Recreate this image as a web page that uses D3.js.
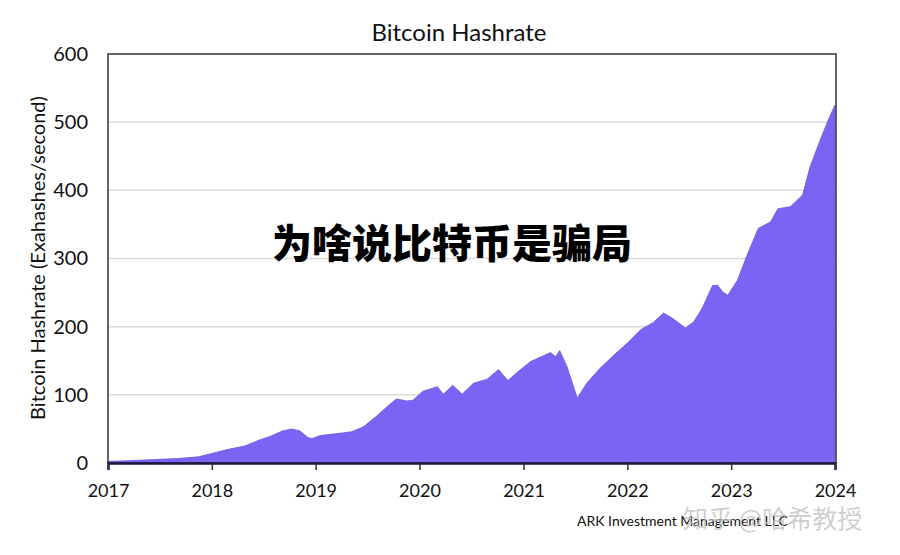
<!DOCTYPE html>
<html>
<head>
<meta charset="utf-8">
<script src="https://cdn.jsdelivr.net/npm/d3@7/dist/d3.min.js"></script>
<style>
  body { margin: 0; background: #fff; }
  text { font-family: Lato, "Noto Sans", sans-serif; }
</style>
</head>
<body>
<script>
// 数据：日期与算力 (EH/s)
const dates = [
  "2017-01-01", "2017-02-17", "2017-06-13", "2017-09-02", "2017-11-14",
  "2018-01-01", "2018-02-28", "2018-04-27", "2018-06-13", "2018-07-31",
  "2018-09-06", "2018-10-09", "2018-11-07", "2018-12-06", "2018-12-20",
  "2019-01-15", "2019-02-21", "2019-04-05", "2019-05-08", "2019-06-18",
  "2019-08-04", "2019-09-13", "2019-10-12", "2019-11-17", "2019-12-09",
  "2020-01-12", "2020-03-04", "2020-03-25", "2020-04-27", "2020-05-30",
  "2020-07-09", "2020-08-26", "2020-10-05", "2020-11-07", "2020-12-10",
  "2021-01-26", "2021-02-28", "2021-04-06", "2021-04-24", "2021-05-08",
  "2021-06-03", "2021-07-09", "2021-08-11", "2021-09-27", "2021-11-14",
  "2022-01-01", "2022-02-18", "2022-04-02", "2022-05-08", "2022-06-10",
  "2022-07-24", "2022-08-22", "2022-09-21", "2022-10-27", "2022-11-14",
  "2022-12-02", "2022-12-20", "2023-01-23", "2023-02-28", "2023-04-06",
  "2023-05-20", "2023-06-14", "2023-07-28", "2023-09-09", "2023-10-05",
  "2023-11-10", "2023-12-13", "2024-01-01"
];
const hashrate = [
  2.5, 3, 5, 6.5, 9,
  14, 20, 25, 33, 40,
  47, 50, 47, 37, 36,
  40, 42, 44, 46, 53,
  69, 84, 94, 91, 92,
  105, 112, 101, 114, 101,
  117, 123, 137, 121, 133,
  149, 155, 162, 156, 165,
  141, 95, 117, 139, 158,
  176, 196, 206, 220, 212,
  198, 207, 227, 260, 261,
  251, 246, 268, 307, 344,
  354, 373, 376, 393, 434,
  474, 508, 525
];
const yTicks = [0, 100, 200, 300, 400, 500, 600];
const xTickYears = [2017, 2018, 2019, 2020, 2021, 2022, 2023, 2024];

const w = 900;
const h = 555;
const margin = {top: 54, left: 108};
const pw = 728;
const ph = 409;

const parse = d3.timeParse("%Y-%m-%d");
const data = dates.map((d, i) => ({date: parse(d), value: hashrate[i]}));

const x = d3.scaleTime()
  .domain([new Date(2017, 0, 1), new Date(2024, 0, 1)])
  .range([0, pw - 1]);
const y = d3.scaleLinear()
  .domain([0, 600])
  .range([ph, 0]);

const svg = d3.select("body")
  .append("svg")
  .attr("width", w)
  .attr("height", h);

const g = svg.append("g")
  .attr("transform", `translate(${margin.left},${margin.top})`);

// 网格线
g.selectAll(".grid")
  .data(yTicks.filter(d => d > 0 && d < 600))
  .enter()
  .append("line")
  .attr("x1", 0)
  .attr("x2", pw)
  .attr("y1", d => y(d))
  .attr("y2", d => y(d))
  .attr("stroke", "#dcdcdc")
  .attr("stroke-width", 1.5);

// 面积
const area = d3.area()
  .x(d => x(d.date))
  .y0(y(0))
  .y1(d => y(d.value))
  .curve(d3.curveLinear);

g.append("path")
  .datum(data)
  .attr("d", area)
  .attr("fill", "#7b64f4")
  .attr("stroke", "#6a55e0")
  .attr("stroke-width", 0.8);

// 边框
g.append("rect")
  .attr("x", 0)
  .attr("y", 0)
  .attr("width", pw)
  .attr("height", ph)
  .attr("fill", "none")
  .attr("stroke", "#333")
  .attr("stroke-width", 1.5);

// x 轴
const xAxis = d3.axisBottom(x)
  .tickValues(xTickYears.map(yr => new Date(yr, 0, 1)))
  .tickFormat(d3.timeFormat("%Y"))
  .tickSize(7)
  .tickPadding(14);

const gx = g.append("g")
  .attr("transform", `translate(0,${ph})`)
  .call(xAxis);
gx.select(".domain").attr("stroke", "#1c1840").attr("stroke-width", 2.5);
gx.selectAll(".tick line").attr("stroke", "#333").attr("stroke-width", 1.5);
gx.selectAll("text")
  .attr("fill", "#111")
  .style("font-size", "18px");

// y 轴
const yAxis = d3.axisLeft(y)
  .tickValues(yTicks)
  .tickSize(0)
  .tickPadding(20);

const gy = g.append("g").call(yAxis);
gy.select(".domain").remove();
gy.selectAll("text")
  .attr("fill", "#111")
  .style("font-size", "20px");

// 标题
svg.append("text")
  .attr("x", 459)
  .attr("y", 41)
  .attr("text-anchor", "middle")
  .attr("fill", "#111")
  .style("font-size", "24px")
  .text("Bitcoin Hashrate");

svg.append("text")
  .attr("transform", "translate(45,258) rotate(-90)")
  .attr("text-anchor", "middle")
  .attr("fill", "#111")
  .style("font-size", "20px")
  .text("Bitcoin Hashrate (Exahashes/second)");

svg.append("text")
  .attr("x", 577)
  .attr("y", 526)
  .attr("fill", "#111")
  .style("font-size", "14px")
  .text("ARK Investment Management LLC");

// 水印
svg.append("text")
  .attr("x", 683)
  .attr("y", 528)
  .attr("fill", "rgba(190,190,190,0.75)")
  .style("font-family", "'Noto Sans CJK SC', sans-serif")
  .style("font-size", "25px")
  .text("知乎 @哈希教授");

// 大标题
svg.append("text")
  .attr("x", 452)
  .attr("y", 258)
  .attr("text-anchor", "middle")
  .attr("fill", "#000")
  .style("font-family", "'Noto Sans CJK SC', sans-serif")
  .style("font-weight", "900")
  .style("font-size", "40px")
  .text("为啥说比特币是骗局");
</script>
</body>
</html>
